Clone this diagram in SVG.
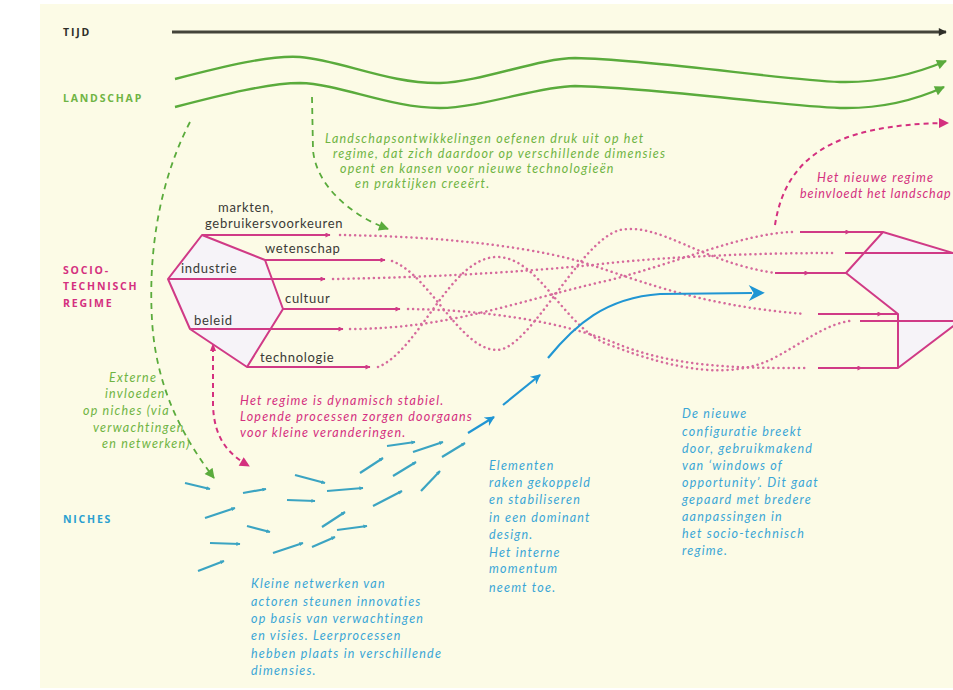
<svg xmlns="http://www.w3.org/2000/svg" width="953" height="690" viewBox="0 0 953 690">
<defs>
<style>
.bg{fill:#fcfbe6}
.cap{font-family:"Open Sans","Liberation Sans",sans-serif;font-weight:700;font-size:10.5px;letter-spacing:1.8px}
.lbl{font-family:Lato,"Open Sans",sans-serif;font-size:13px;letter-spacing:0.7px;fill:#3a3a36}
.it{font-family:Lato,"Open Sans",sans-serif;font-style:italic;font-size:12.5px;letter-spacing:1.2px}
.gtx{fill:#6fb443}
.ptx{fill:#d4307f}
.btx{fill:#3aa6d6}
.wave{fill:none;stroke:#5aab3c;stroke-width:2.4}
.gdash{fill:none;stroke:#5aab3c;stroke-width:1.8;stroke-dasharray:6 5}
.pdash{fill:none;stroke:#d4307f;stroke-width:2;stroke-dasharray:5 4}
.dot{fill:none;stroke:#d66a9c;stroke-width:2.5;stroke-dasharray:0.1 5;stroke-linecap:round}
.hex{fill:#f6f3f8;stroke:#d03a86;stroke-width:2;stroke-linejoin:round}
.pl{fill:none;stroke:#d03a86;stroke-width:2}
.niche{fill:none;stroke:#3ba4c2;stroke-width:2.2;marker-end:url(#ta)}
.blue{fill:none;stroke:#2196d3;stroke-width:2.2}
</style>
<marker id="ka" viewBox="0 0 10 10" refX="9" refY="5" markerWidth="9" markerHeight="8" markerUnits="userSpaceOnUse" orient="auto"><path d="M0,0 L10,5 L0,10 Z" fill="#2e2e28"/></marker>
<marker id="ga" viewBox="0 0 10 10" refX="9" refY="5" markerWidth="11" markerHeight="10" markerUnits="userSpaceOnUse" orient="auto"><path d="M0,0 L10,5 L0,10 Z" fill="#5aab3c"/></marker>
<marker id="pa" viewBox="0 0 10 10" refX="9" refY="5" markerWidth="11" markerHeight="10" markerUnits="userSpaceOnUse" orient="auto"><path d="M0,0 L10,5 L0,10 Z" fill="#d4307f"/></marker>
<marker id="ps" viewBox="0 0 10 10" refX="9" refY="5" markerWidth="6" markerHeight="5" markerUnits="userSpaceOnUse" orient="auto"><path d="M0,0 L10,5 L0,10 Z" fill="#d03a86"/></marker>
<marker id="psm" viewBox="0 0 10 10" refX="5" refY="5" markerWidth="6" markerHeight="5" markerUnits="userSpaceOnUse" orient="auto"><path d="M0,0 L10,5 L0,10 Z" fill="#d03a86"/></marker>
<marker id="ba" viewBox="0 0 10 10" refX="2" refY="5" markerWidth="22" markerHeight="16" markerUnits="userSpaceOnUse" orient="auto"><path d="M0,0 L10,5 L0,10 L3,5 Z" fill="#1f96d4"/></marker>
<marker id="bs" viewBox="0 0 10 10" refX="9" refY="5" markerWidth="12" markerHeight="10" markerUnits="userSpaceOnUse" orient="auto"><path d="M0,0 L10,5 L0,10 L3,5 Z" fill="#1f96d4"/></marker>
<marker id="ta" viewBox="0 0 10 10" refX="9" refY="5" markerWidth="5" markerHeight="4" markerUnits="userSpaceOnUse" orient="auto"><path d="M0,0 L10,5 L0,10 Z" fill="#3ba4c2"/></marker>
</defs>

<rect x="40" y="4" width="913" height="684" class="bg"/>

<g id="labels">
<text class="cap" x="63" y="36" fill="#2e2e28">TIJD</text>
<text class="cap" x="63" y="102" fill="#6fb443">LANDSCHAP</text>
<text class="cap" x="63" y="274" fill="#d4307f">SOCIO-</text>
<text class="cap" x="63" y="290" fill="#d4307f">TECHNISCH</text>
<text class="cap" x="63" y="307" fill="#d4307f">REGIME</text>
<text class="cap" x="63" y="523" fill="#2a9fd0">NICHES</text>
</g>

<g id="connectors">
<path d="M172,32 L946,32" stroke="#44443a" stroke-width="3" fill="none" marker-end="url(#ka)"/>
<path class="wave" d="M175,79 C225,66 270,55 300,57 C340,60 390,84 440,83 C480,82 540,58 575,58 C660,60 780,80 840,82 C885,83 920,72 946,61" marker-end="url(#ga)"/>
<path class="wave" d="M175,107 C225,94 270,83 300,83 C340,84 390,108 440,108 C480,108 540,86 575,86 C660,88 780,106 840,108 C885,109 920,98 944,87" marker-end="url(#ga)"/>
<path class="gdash" d="M190,122 C160,180 148,250 152,320 C156,390 185,440 214,478" marker-end="url(#ga)"/>
<path class="gdash" d="M312,97 L313,150 C316,185 350,215 388,229" marker-end="url(#ga)"/>
<path class="pdash" d="M213,347 L213,405 C214,440 230,455 249,466" marker-end="url(#pa)"/>
<path d="M210,351 L213,343 L216,351 Z" fill="#d4307f"/>
<path class="pdash" d="M775,225 C785,160 830,124 948,123" marker-end="url(#pa)"/>

<path class="dot" d="M340,235 C420,236 510,243 575,260 C630,276 690,305 805,314"/>
<path class="dot" d="M392,261 C430,275 460,350 497,350 C530,350 580,240 620,230 C660,222 700,262 775,273"/>
<path class="dot" d="M333,279 C450,277 550,270 610,263 C680,256 760,253 835,253"/>
<path class="dot" d="M408,309 C480,310 560,320 620,345 C680,368 740,368 805,368"/>
<path class="dot" d="M378,367 C420,350 450,257 497,257 C540,257 565,330 610,345 C680,372 730,378 770,360 C800,345 825,324 850,321"/>
<path class="dot" d="M350,329 C450,329 520,300 610,280 C680,262 740,234 792,232"/>

<path class="pl" d="M202,235 L330,235" marker-end="url(#ps)"/>
<path class="pl" d="M265,260 L385,260" marker-end="url(#ps)"/>
<path class="pl" d="M168,279 L325,279" marker-end="url(#ps)"/>
<path class="pl" d="M283,309 L400,309" stroke-width="2.6" marker-end="url(#ps)"/>
<path class="pl" d="M190,329 L343,329" marker-end="url(#ps)"/>
<path class="pl" d="M247,367 L370,367" marker-end="url(#ps)"/>

<path class="pl" d="M800,232 L848,232 L883,232" marker-mid="url(#psm)"/>
<path class="pl" d="M845,253 L960,253"/>
<path class="pl" d="M775,273 L807,273 L846,273" marker-mid="url(#psm)"/>
<path class="pl" d="M818,314 L880,314 L898,314" marker-mid="url(#psm)"/>
<path class="pl" d="M860,321 L960,321"/>
<path class="pl" d="M818,368 L860,368 L898,368" marker-mid="url(#psm)"/>

<path class="niche" d="M185,483 L210,489"/>
<path class="niche" d="M243,493 L266,489"/>
<path class="niche" d="M295,475 L325,483"/>
<path class="niche" d="M327,491 L363,488"/>
<path class="niche" d="M287,500 L315,501"/>
<path class="niche" d="M205,518 L235,508"/>
<path class="niche" d="M247,526 L270,532"/>
<path class="niche" d="M210,543 L240,544"/>
<path class="niche" d="M198,571 L224,561"/>
<path class="niche" d="M273,553 L303,543"/>
<path class="niche" d="M312,547 L335,537"/>
<path class="niche" d="M322,527 L345,512"/>
<path class="niche" d="M337,530 L367,526"/>
<path class="niche" d="M360,473 L383,458"/>
<path class="niche" d="M387,446 L415,442"/>
<path class="niche" d="M393,476 L416,462"/>
<path class="niche" d="M373,506 L402,491"/>
<path class="niche" d="M413,452 L443,442"/>
<path class="niche" d="M421,491 L440,471"/>
<path class="niche" d="M442,457 L465,443"/>
<path class="blue" d="M468,433 L494,417" marker-end="url(#bs)"/>
<path class="blue" d="M503,405 L540,375" marker-end="url(#bs)"/>
<path class="blue" d="M548,358 C575,325 605,298 660,294 L752,293" marker-end="url(#ba)"/>
</g>

<g id="regime-old">
<polygon class="hex" points="202,235 265,260 283,309 247,367 190,329 168,279"/>
</g>
<g id="regime-new">
<polygon class="hex" points="883,232 990,264 990,298 898,368 898,314 846,273"/>
<path class="pl" d="M898,314 L898,368"/>
</g>
<g id="regime-lines-over">
<path class="pl" d="M202,235 L330,235"/>
<path class="pl" d="M265,260 L385,260"/>
<path class="pl" d="M168,279 L325,279"/>
<path class="pl" d="M283,309 L400,309" stroke-width="2.6"/>
<path class="pl" d="M190,329 L343,329"/>
<path class="pl" d="M247,367 L370,367"/>
<path class="pl" d="M845,253 L960,253"/>
<path class="pl" d="M860,321 L960,321"/>
</g>

<g id="dimension-labels">
<text class="lbl" x="218" y="212">markten,</text>
<text class="lbl" x="205" y="228">gebruikersvoorkeuren</text>
<text class="lbl" x="265" y="253">wetenschap</text>
<text class="lbl" x="181" y="273">industrie</text>
<text class="lbl" x="285" y="303">cultuur</text>
<text class="lbl" x="194" y="325">beleid</text>
<text class="lbl" x="260" y="362">technologie</text>
</g>

<g id="text-landscape" class="it gtx">
<text x="325" y="143">Landschapsontwikkelingen oefenen druk uit op het</text>
<text x="333" y="158">regime, dat zich daardoor op verschillende dimensies</text>
<text x="340" y="173">opent en kansen voor nieuwe technologieën</text>
<text x="355" y="188">en praktijken creeërt.</text>
</g>

<g id="text-external" class="it gtx">
<text x="109" y="382">Externe</text>
<text x="105" y="398">invloeden</text>
<text x="83" y="415">op niches (via</text>
<text x="93" y="432">verwachtingen</text>
<text x="102" y="448">en netwerken)</text>
</g>

<g id="text-newregime" class="it ptx">
<text x="817" y="182">Het nieuwe regime</text>
<text x="800" y="198" letter-spacing="0.9">beinvloedt het landschap</text>
</g>

<g id="text-stable" class="it ptx">
<text x="240" y="405">Het regime is dynamisch stabiel.</text>
<text x="240" y="421">Lopende processen zorgen doorgaans</text>
<text x="240" y="437">voor kleine veranderingen.</text>
</g>

<g id="text-niches" class="it btx">
<text x="251" y="588">Kleine netwerken van</text>
<text x="251" y="606">actoren steunen innovaties</text>
<text x="251" y="623">op basis van verwachtingen</text>
<text x="251" y="640">en visies. Leerprocessen</text>
<text x="251" y="658">hebben plaats in verschillende</text>
<text x="251" y="675">dimensies.</text>
</g>

<g id="text-elements" class="it btx">
<text x="489" y="470">Elementen</text>
<text x="489" y="487">raken gekoppeld</text>
<text x="489" y="504">en stabiliseren</text>
<text x="489" y="522">in een dominant</text>
<text x="489" y="539">design.</text>
<text x="489" y="557">Het interne</text>
<text x="489" y="573">momentum</text>
<text x="489" y="592">neemt toe.</text>
</g>

<g id="text-breakthrough" class="it btx">
<text x="682" y="418">De nieuwe</text>
<text x="682" y="436">configuratie breekt</text>
<text x="682" y="453">door, gebruikmakend</text>
<text x="682" y="470">van ‘windows of</text>
<text x="682" y="487">opportunity’. Dit gaat</text>
<text x="682" y="504">gepaard met bredere</text>
<text x="682" y="521">aanpassingen in</text>
<text x="682" y="538">het socio-technisch</text>
<text x="682" y="555">regime.</text>
</g>
</svg>
